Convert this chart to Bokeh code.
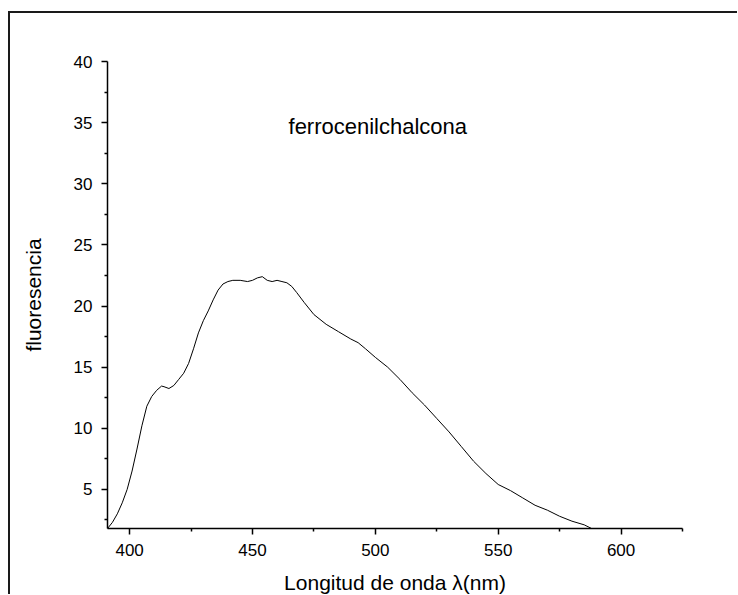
from bokeh.plotting import figure
from bokeh.models import Range1d, FixedTicker, Label
from bokeh.embed import file_html
from bokeh.resources import INLINE

# Data
wavelength = [391, 393, 395, 397, 399, 401, 403, 405, 407, 409, 411, 413, 414, 416, 418,
              420, 422, 424, 426, 428, 430, 432, 434, 436, 438, 440, 442, 445, 448, 450,
              452, 454, 456, 458, 460, 462, 464, 466, 468, 471, 475, 480, 485, 490, 493,
              496, 500, 505, 510, 515, 520, 525, 530, 535, 540, 545, 550, 555, 560, 565,
              570, 575, 580, 585, 588]
fluorescence = [1.8, 2.3, 3.0, 3.9, 5.0, 6.5, 8.3, 10.2, 11.8, 12.6, 13.1, 13.45, 13.4, 13.25, 13.5,
                14.0, 14.5, 15.3, 16.5, 17.8, 18.8, 19.6, 20.5, 21.3, 21.8, 22.0, 22.1, 22.1, 22.0, 22.1,
                22.3, 22.4, 22.1, 22.0, 22.1, 22.0, 21.9, 21.6, 21.1, 20.3, 19.3, 18.5, 17.9, 17.3, 17.0,
                16.5, 15.8, 15.0, 14.0, 12.9, 11.9, 10.8, 9.7, 8.5, 7.3, 6.3, 5.4, 4.9, 4.3, 3.7,
                3.3, 2.8, 2.4, 2.1, 1.8]
x_ticks = [400, 450, 500, 550, 600]
x_minor = [425, 475, 525, 575, 625]
y_ticks = [5, 10, 15, 20, 25, 30, 35, 40]
y_minor = [2.5, 7.5, 12.5, 17.5, 22.5, 27.5, 32.5, 37.5]
title_text = "ferrocenilchalcona"
x_label = "Longitud de onda \u03bb(nm)"
y_label = "fluoresencia"

FONT = "Liberation Sans"

p = figure(width=729, height=583, output_backend="svg", toolbar_location=None,
           x_range=Range1d(391, 625), y_range=Range1d(1.8, 40),
           min_border_left=97, min_border_top=48, min_border_right=57, min_border_bottom=67)
p.margin = (11, 0, 0, 8)
p.styles = {"border-top": "2px solid #1a1a1a", "border-left": "2px solid #1a1a1a"}
p.outline_line_color = None
p.grid.visible = False
p.background_fill_color = "white"
p.border_fill_color = "white"

for ax, ticks, minor in ((p.xaxis, x_ticks, x_minor), (p.yaxis, y_ticks, y_minor)):
    ax.ticker = FixedTicker(ticks=ticks, minor_ticks=minor)
    ax.axis_line_width = 1.5
    ax.axis_line_color = "black"
    ax.major_tick_line_width = 1.5
    ax.minor_tick_line_width = 1.5
    ax.major_tick_out = 6
    ax.major_tick_in = 0
    ax.minor_tick_out = 3
    ax.minor_tick_in = 0
    ax.major_label_text_font = FONT
    ax.major_label_text_font_size = "17px"
    ax.major_label_text_color = "black"
    ax.axis_label_text_font = FONT
    ax.axis_label_text_font_size = "21px"
    ax.axis_label_text_font_style = "normal"
    ax.axis_label_text_color = "black"

p.xaxis.axis_label = x_label
p.yaxis.axis_label = y_label
p.xaxis.major_label_standoff = 9
p.xaxis.axis_label_standoff = 12
p.yaxis.major_label_standoff = 9
p.yaxis.axis_label_standoff = 26

p.line(wavelength, fluorescence, line_color="black", line_width=1)

p.add_layout(Label(x=501, y=34.7, text=title_text, text_align="center", text_baseline="middle",
                   text_font=FONT, text_font_size="22px", text_color="black"))

open("out.html", "w").write(file_html(p, INLINE))
